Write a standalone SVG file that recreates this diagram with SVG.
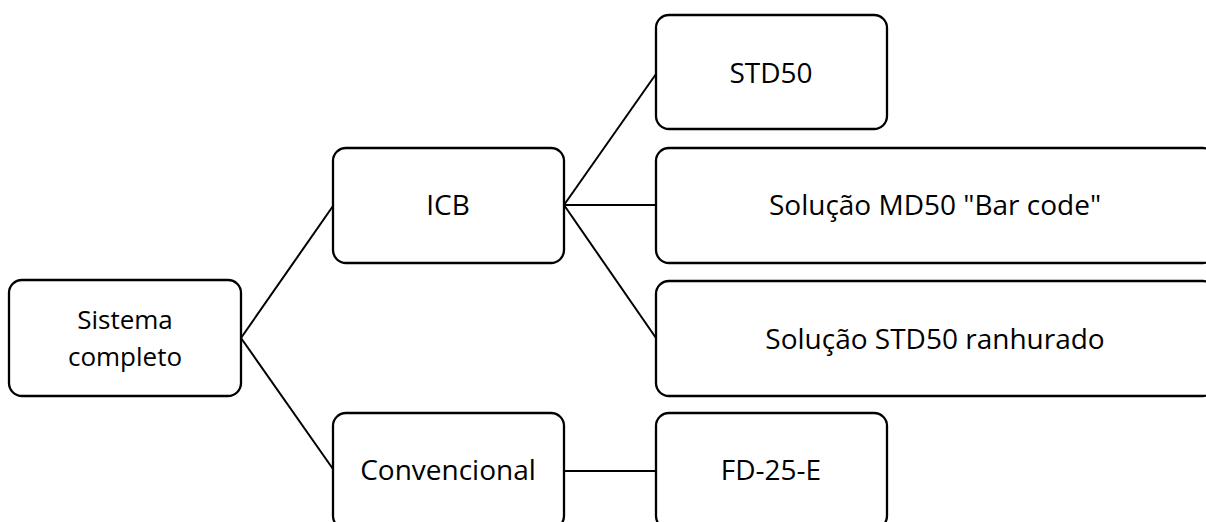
<svg xmlns="http://www.w3.org/2000/svg" width="1206" height="522" viewBox="0 0 1206 522">
<style>
.box{fill:#fff;stroke:#000;stroke-width:2.3}
.t{font-family:"Open Sans","Liberation Sans",sans-serif;font-size:28px;fill:#000;text-anchor:middle}
.s{font-size:26px}
.c{stroke:#000;stroke-width:2;fill:none}
</style>
<rect width="1206" height="522" fill="#fff"/>
<g id="connectors">
<line class="c" x1="241" y1="338" x2="333" y2="206"/>
<line class="c" x1="241" y1="338" x2="333" y2="469"/>
<line class="c" x1="564" y1="205" x2="656" y2="74"/>
<line class="c" x1="564" y1="205" x2="656" y2="205"/>
<line class="c" x1="564" y1="205" x2="656" y2="338"/>
<line class="c" x1="564" y1="471" x2="656" y2="471"/>
</g>
<g id="sistema"><rect class="box" x="9" y="280" width="232" height="116" rx="13"/><text class="t s" x="125" y="329">Sistema</text><text class="t s" x="125" y="365.5">completo</text></g>
<g id="icb"><rect class="box" x="333" y="148" width="231" height="115" rx="13"/><text class="t" x="448" y="215">ICB</text></g>
<g id="convencional"><rect class="box" x="333" y="413" width="231" height="116" rx="13"/><text class="t" x="448" y="480">Convencional</text></g>
<g id="std50"><rect class="box" x="656" y="15" width="231" height="114" rx="13"/><text class="t" x="771" y="83">STD50</text></g>
<g id="md50"><rect class="box" x="656" y="148" width="560" height="115" rx="13"/><text class="t" x="935" y="215">Solução MD50 "Bar code"</text></g>
<g id="ranhurado"><rect class="box" x="656" y="281" width="560" height="115" rx="13"/><text class="t" x="935" y="349">Solução STD50 ranhurado</text></g>
<g id="fd25e"><rect class="box" x="656" y="413" width="231" height="116" rx="13"/><text class="t" x="771" y="480">FD-25-E</text></g>
</svg>
